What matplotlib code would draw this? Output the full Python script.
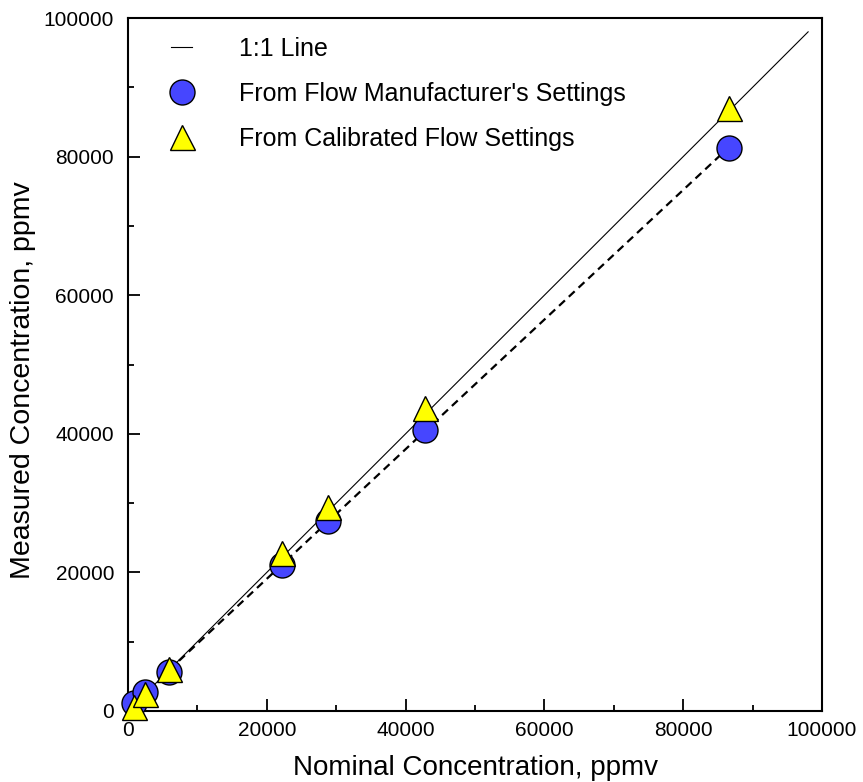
import numpy as np
import matplotlib
matplotlib.use("Agg")
import matplotlib.pyplot as plt
from matplotlib.ticker import MultipleLocator

plt.rcParams['font.family'] = ['Liberation Sans', 'DejaVu Sans']

# nominal vs measured concentrations (ppmv)
nominal = [800, 2450, 5950, 22150, 28850, 42800, 86600]
manufacturer = [1200, 2750, 5650, 21100, 27350, 40550, 81300]
calibrated = [600, 2450, 6050, 22850, 29450, 43700, 87000]
one_to_one = [0, 98000]

fig = plt.figure(figsize=(8.63, 7.82), dpi=100)
ax = fig.add_axes([128 / 863, 71 / 782, 694 / 863, 693 / 782])

# 1:1 reference line
ax.plot(one_to_one, one_to_one, color='black', lw=0.8, zorder=1, label='1:1 Line')

# linear fit through the manufacturer's-setting points
slope, icpt = np.polyfit(nominal, manufacturer, 1)
fx = np.array([nominal[2], nominal[-1]])
ax.plot(fx, slope * fx + icpt, color='black', lw=1.6, dashes=(3.6, 2.4), zorder=1)

ax.plot(nominal, manufacturer, 'o', ms=18, mfc='#4646FF', mec='black', mew=1.0,
        ls='none', zorder=3, clip_on=False, label="From Flow Manufacturer's Settings")
ax.plot(nominal, calibrated, '^', ms=18, mfc='#FFFF00', mec='black', mew=1.0,
        ls='none', zorder=4, clip_on=False, label='From Calibrated Flow Settings')

ax.set_xlim(0, 100000)
ax.set_ylim(0, 100000)
ax.xaxis.set_major_locator(MultipleLocator(20000))
ax.xaxis.set_minor_locator(MultipleLocator(10000))
ax.yaxis.set_major_locator(MultipleLocator(20000))
ax.yaxis.set_minor_locator(MultipleLocator(10000))
ax.tick_params(which='both', direction='in', top=False, right=False, width=1.3)
ax.tick_params(which='major', length=8.5)
ax.tick_params(which='minor', length=4.5)
ax.tick_params(axis='x', labelsize=15, pad=7)
ax.tick_params(axis='y', labelsize=15, pad=10)
for sp in ax.spines.values():
    sp.set_linewidth(1.5)

ax.set_xlabel('Nominal Concentration, ppmv', fontsize=20, labelpad=11)
ax.set_ylabel('Measured Concentration, ppmv', fontsize=20.5)
ax.yaxis.set_label_coords(-0.133, 0.478)

ax.legend(loc='upper left', bbox_to_anchor=(0.062, 0.973), frameon=False,
          fontsize=18, numpoints=1, handlelength=0.85, handletextpad=1.85,
          labelspacing=0.84, borderpad=0, borderaxespad=0)

fig.savefig('out.png', dpi=100)
